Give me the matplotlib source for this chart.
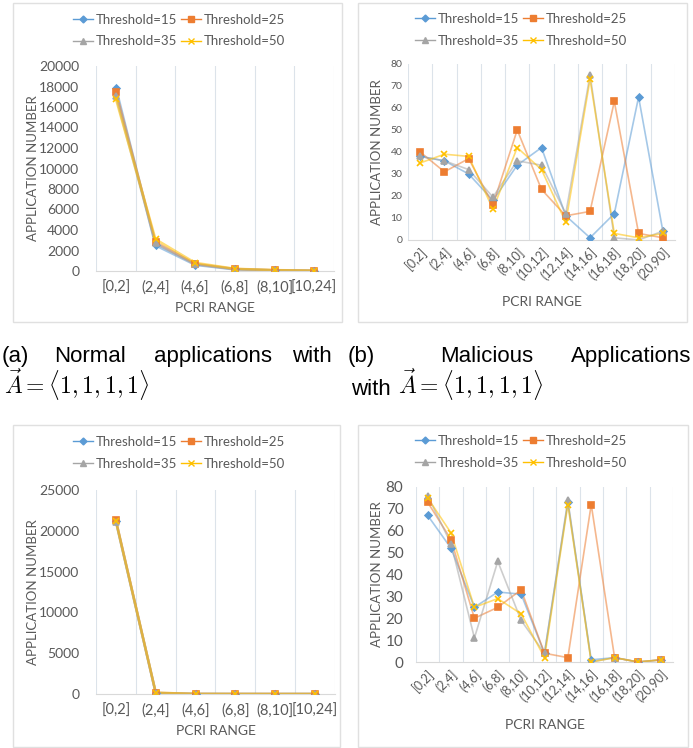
import matplotlib
matplotlib.use("Agg")
import matplotlib.pyplot as plt
from matplotlib.lines import Line2D
from matplotlib.patches import Rectangle

plt.rcParams['font.family'] = ['Lato', 'DejaVu Sans']

W, H = 693, 748

cats_small = ["[0,2]", "(2,4]", "(4,6]", "(6,8]", "(8,10]", "[10,24]"]
cats_large = ["[0,2]", "(2,4]", "(4,6]", "(6,8]", "(8,10]", "(10,12]",
              "(12,14]", "(14,16]", "(16,18]", "(18,20]", "(20,90]"]
labels = ["Threshold=15", "Threshold=25", "Threshold=35", "Threshold=50"]

# (a) normal applications
a_t15 = [17900, 2500, 600, 150, 60, 20]
a_t25 = [17500, 2800, 700, 200, 80, 30]
a_t35 = [17100, 2700, 650, 180, 70, 25]
a_t50 = [16800, 3100, 800, 220, 90, 30]

# (b) malicious applications
b_t15 = [38, 36, 30, 18, 34, 42, 11, 1, 12, 65, 4]
b_t25 = [40, 31, 37, 16, 50, 23, 11, 13, 63, 3, 1]
b_t35 = [38, 36, 32, 19.5, 36, 34, 12, 75, 1, 0, 4]
b_t50 = [35, 39, 38, 14, 42, 32, 8, 73, 3, 1, 3]

# (c) normal applications
c_t15 = [21200, 120, 10, 5, 2, 1]
c_t25 = [21300, 150, 12, 5, 2, 1]
c_t35 = [21100, 100, 8, 4, 2, 1]
c_t50 = [21200, 160, 10, 5, 2, 1]

# (d) malicious applications
d_t15 = [67, 52, 25, 32, 31, 4, 73, 1, 2, 0, 1]
d_t25 = [73, 56, 20, 25, 33, 4, 2, 72, 2, 0, 1]
d_t35 = [76, 54, 11, 46, 19, 4, 74, 0, 2, 0, 1]
d_t50 = [75, 59, 25, 29, 22, 2, 72, 0, 2, 0, 1]

colors = ['#5B9BD5', '#ED7D31', '#A5A5A5', '#FFC000']
markers = ['D', 's', '^', 'x']
msizes = [3.5, 5, 5, 5]
txt_col = '#595959'
grid_col = '#DCE3EA'

fig = plt.figure(figsize=(W / 100, H / 100), dpi=100)


def rect(x0, y0, x1, y1):
    return [x0 / W, 1 - y1 / H, (x1 - x0) / W, (y1 - y0) / H]


def frame(x0, y0, x1, y1):
    fig.patches.append(Rectangle((x0 / W, 1 - y1 / H), (x1 - x0) / W, (y1 - y0) / H,
                                 transform=fig.transFigure, fill=False,
                                 edgecolor='#E0E0E0', lw=1))


def panel(box, series, cats, ymax, ystep, ytick_fs, ypad, xtick_fs, rot,
          leg_xy, ylab_x, xlab_y, lw):
    ax = fig.add_axes(rect(*box))
    x = list(range(len(cats)))
    for s, c, m, ms in zip(series, colors, markers, msizes):
        ax.plot(x, s, color=c, lw=lw, alpha=0.55, zorder=2)
        ax.plot(x, s, color=c, lw=0, marker=m, ms=ms, mew=1.2, zorder=3)
    ax.set_xlim(-0.5, len(cats) - 0.5)
    ax.set_ylim(0, ymax)
    ax.set_yticks(range(0, ymax + 1, ystep))
    ax.set_xticks(x)
    ax.set_xticks([i - 0.5 for i in range(len(cats) + 1)], minor=True)
    if rot:
        ax.set_xticklabels(cats, rotation=45, ha='right', rotation_mode='anchor')
    else:
        ax.set_xticklabels(cats)
    ax.tick_params(axis='x', which='major', length=0, labelsize=xtick_fs,
                   labelcolor=txt_col, pad=7 if not rot else 4)
    ax.tick_params(axis='x', which='minor', length=0)
    ax.tick_params(axis='y', length=0, labelsize=ytick_fs, labelcolor=txt_col, pad=ypad)
    ax.grid(axis='x', which='minor', color=grid_col, lw=0.8)
    ax.set_axisbelow(True)
    for sp in ['top', 'right', 'left']:
        ax.spines[sp].set_visible(False)
    ax.spines['bottom'].set_color('#D9D9D9')
    handles = [Line2D([], [], color=c, marker=m, ms=ms, lw=1)
               for c, m, ms in zip(colors, markers, msizes)]
    order = [0, 2, 1, 3]
    fig.legend([handles[i] for i in order], [labels[i] for i in order],
               ncol=2, loc='center', bbox_to_anchor=(leg_xy[0] / W, 1 - leg_xy[1] / H),
               frameon=False, fontsize=9.5, handlelength=1.5, handletextpad=0.2,
               columnspacing=0.3, labelspacing=0.75, labelcolor=txt_col)
    fig.text(ylab_x / W, 1 - ((box[1] + box[3]) / 2) / H, "APPLICATION NUMBER",
             rotation=90, ha='center', va='center', fontsize=9.5, color=txt_col)
    fig.text(((box[0] + box[2]) / 2) / W, 1 - xlab_y / H, "PCRI RANGE",
             ha='center', va='center', fontsize=10, color=txt_col)
    return ax


frame(13, 3, 342, 322)
frame(358, 3, 687, 322)
frame(13, 425, 340, 747)
frame(358, 425, 688, 747)

panel((96, 66, 334, 271), [a_t15, a_t25, a_t35, a_t50], cats_small, 20000, 2000,
      10, 12, 10.5, False, (179, 30.5), 33, 308, 1.8)
panel((408, 64, 675, 240), [b_t15, b_t25, b_t35, b_t50], cats_large, 80, 10,
      7.5, 4, 9, True, (521, 30), 377, 302, 1.2)
panel((96, 490, 335, 694), [c_t15, c_t25, c_t35, c_t50], cats_small, 25000, 5000,
      10, 12, 10.5, False, (179, 453), 33, 731, 1.8)
panel((416, 487, 673, 662), [d_t15, d_t25, d_t35, d_t50], cats_large, 80, 10,
      11, 9, 9, True, (521, 452), 377, 725, 1.2)

# captions
cap_fs = 16
cap_font = ['Liberation Sans', 'DejaVu Sans']
words1 = [("(a)", 2), ("Normal", 54), ("applications", 154), ("with", 292),
          ("(b)", 348), ("Malicious", 440), ("Applications", 571)]
for w, xp in words1:
    fig.text(xp / W, 1 - 362 / H, w, fontsize=cap_fs, family=cap_font,
             ha='left', va='baseline')
vec = r'$\vec{A} = \langle 1, 1, 1, 1\rangle$'
fig.text(4 / W, 1 - 395 / H, vec, fontsize=17, ha='left', va='baseline',
         math_fontfamily='cm')
fig.text(351 / W, 1 - 395 / H, "with", fontsize=cap_fs, family=cap_font,
         ha='left', va='baseline')
fig.text(398 / W, 1 - 395 / H, vec, fontsize=17, ha='left', va='baseline',
         math_fontfamily='cm')

fig.savefig("out.png", dpi=100)
